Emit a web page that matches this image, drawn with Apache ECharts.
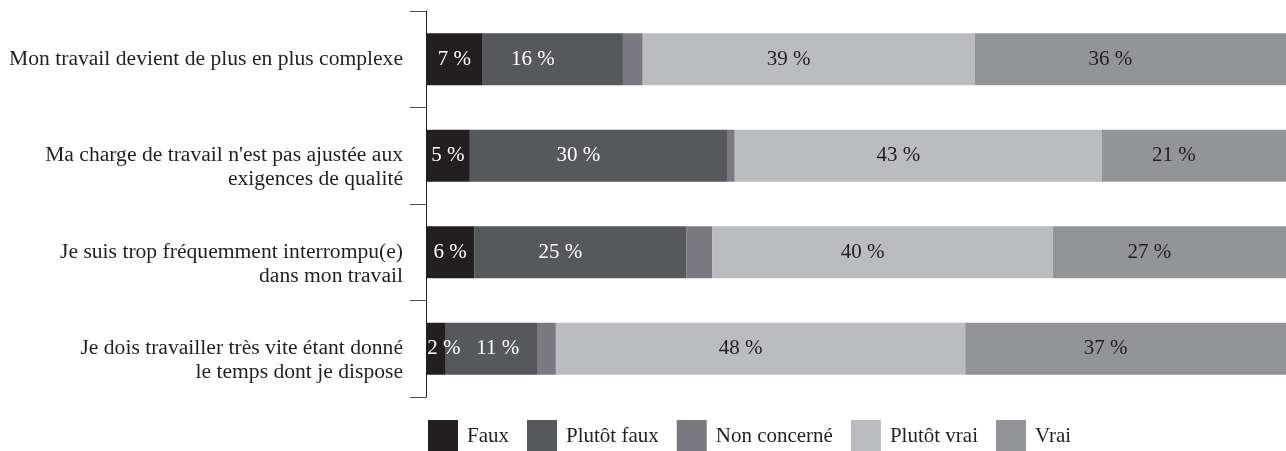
<!DOCTYPE html>
<html>
<head>
<meta charset="utf-8">
<script src="https://cdn.jsdelivr.net/npm/echarts@6/dist/echarts.min.js"></script>
<style>
html,body{margin:0;padding:0;background:#fff;}
#chart{width:1286px;height:451px;}
</style>
</head>
<body>
<div id="chart"></div>
<script>
const categories = [
  "Mon travail devient de plus en plus complexe",
  "Ma charge de travail n'est pas ajustée aux\nexigences de qualité",
  "Je suis trop fréquemment interrompu(e)\ndans mon travail",
  "Je dois travailler très vite étant donné\nle temps dont je dispose"
];
const seriesNames = ["Faux", "Plutôt faux", "Non concerné", "Plutôt vrai", "Vrai"];
const faux        = [6.6, 5.1, 5.6, 2.3];
const plutotFaux  = [16.3, 29.9, 24.7, 10.7];
const nonConcerne = [2.3, 0.9, 3.0, 2.1];
const plutotVrai  = [38.6, 42.7, 39.6, 47.6];
const vrai        = [36.2, 21.4, 27.1, 37.3];

const colors = ["#231f20", "#57585c", "#7a797f", "#bbbcc0", "#939498"];
const labelColors = ["#ffffff", "#ffffff", null, "#231f20", "#231f20"];
const labelOffsets = [[0,0], [-20,0], [0,0], [-20,0], [-20,0]];
const FONT = "'Liberation Serif', 'Times New Roman', serif";

const dataSets = [faux, plutotFaux, nonConcerne, plutotVrai, vrai];

const chart = echarts.init(document.getElementById('chart'), null, {renderer:'canvas'});

const series = dataSets.map((arr, si) => ({
  name: seriesNames[si],
  type: 'bar',
  stack: 'total',
  barWidth: 52,
  itemStyle: { color: colors[si] },
  label: {
    show: labelColors[si] !== null,
    position: 'inside',
    color: labelColors[si] || '#000',
    fontFamily: FONT,
    fontSize: 21,
    offset: labelOffsets[si],
    formatter: p => Math.round(p.value) + ' %'
  },
  data: arr.map((v, i) => {
    if (si === 0 && i === 3) return { value: v, label: { offset: [8, 0] } };
    if (si === 1 && i === 3) return { value: v, label: { offset: [6, 0] } };
    return v;
  })
}));

chart.setOption({
  animation: false,
  textStyle: { fontFamily: FONT },
  grid: { left: 426, right: 0, top: 11, bottom: 54, containLabel: false },
  xAxis: { type: 'value', min: 0, max: 100, show: false },
  yAxis: {
    type: 'category',
    inverse: true,
    data: categories,
    axisLine: { show: true, lineStyle: { color: '#231f20', width: 1 } },
    axisTick: { show: true, length: 16, lineStyle: { color: '#4a4a4a', width: 1 } },
    axisLabel: {
      margin: 23,
      color: '#231f20',
      fontFamily: FONT,
      fontSize: 21.6,
      lineHeight: 24,
      align: 'right',
      // first line sits on the band centre, the second line below it
      formatter: v => (v.indexOf('\n') >= 0 ? '\n' + v : v)
    },
    splitLine: { show: false }
  },
  legend: {
    data: seriesNames,
    left: 428,
    top: 420,
    padding: 0,
    icon: 'rect',
    itemWidth: 30,
    itemHeight: 32,
    itemGap: 18,
    textStyle: {
      fontFamily: FONT,
      fontSize: 21,
      color: '#231f20',
      padding: [8, 0, 0, 4]
    }
  },
  series: series
});
</script>
</body>
</html>
